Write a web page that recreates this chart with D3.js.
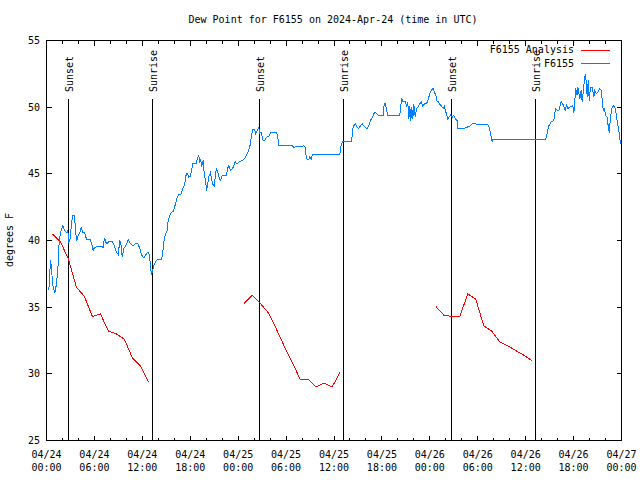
<!DOCTYPE html>
<html><head><meta charset="utf-8">
<script src="https://cdn.jsdelivr.net/npm/d3@7"></script>
<style>
html,body{margin:0;padding:0;background:#fff;}
text{font-family:"DejaVu Sans Mono","Liberation Mono",monospace;font-size:10px;fill:#000;}
</style></head>
<body>
<svg id="chart" width="640" height="480"></svg>
<script>
// ---- data ----
const title = "Dew Point for F6155 on 2024-Apr-24 (time in UTC)";
const yLabel = "degrees F";
const startDate = ["04/24","04/24","04/24","04/24","04/25","04/25","04/25","04/25","04/26","04/26","04/26","04/26","04/27"];
const tickTimes = ["00:00","06:00","12:00","18:00","00:00","06:00","12:00","18:00","00:00","06:00","12:00","18:00","00:00"];
const yTicks = [25,30,35,40,45,50,55];

// hours since 04/24 00:00 UTC
const sunHours = [2.75, 13.27, 26.67, 37.19, 50.71, 61.23];
const sunLabels = ["Sunset","Sunrise","Sunset","Sunrise","Sunset","Sunrise"];

// F6155 Analysis (three segments, hourly)
const analysisStart = [0.75, 24.75, 48.75];
const analysis1 = [40.5, 39.9, 38.6, 36.5, 35.8, 34.3, 34.5, 33.2, 33.0, 32.6, 31.2, 30.6, 29.4];
const analysis2 = [35.3, 35.9, 35.3, 34.6, 33.4, 32.1, 30.9, 29.6, 29.6, 29.0, 29.3, 29.0, 30.1];
const analysis3 = [35.05, 34.4, 34.3, 34.3, 36.0, 35.6, 33.6, 33.2, 32.4, 32.1, 31.75, 31.4, 31.0];

// F6155 observations
const obsHours = [0.29,0.50,0.63,0.75,0.91,1.04,1.25,1.47,1.59,1.84,2.04,2.25,2.50,2.67,2.79,2.92,3.13,3.29,3.51,3.63,3.79,3.97,4.17,4.35,4.51,4.76,5.01,5.51,5.72,5.85,6.01,6.76,7.10,7.26,7.51,7.80,8.23,8.51,8.77,8.98,9.18,9.35,9.48,9.68,9.93,10.23,10.52,10.86,11.14,11.43,11.68,11.93,12.18,12.40,12.65,12.81,12.94,13.06,13.15,13.31,13.44,13.65,13.86,14.36,14.53,14.69,14.90,15.11,15.24,15.44,15.65,15.87,16.03,16.24,16.37,16.57,16.87,17.07,17.32,17.41,17.62,17.82,18.03,18.16,18.32,18.75,18.95,19.07,19.20,19.32,19.41,19.62,19.75,19.91,20.04,20.16,20.32,20.54,20.66,20.82,21.00,21.13,21.29,21.45,21.66,21.79,22.00,22.54,22.70,22.83,23.04,23.29,23.45,23.63,23.79,23.95,24.29,24.63,24.92,25.13,25.38,25.54,25.63,25.80,26.08,26.21,26.38,26.58,26.71,26.88,27.13,27.34,27.55,27.84,28.05,28.80,28.96,29.09,30.77,30.97,31.72,32.22,32.39,32.47,32.64,32.85,32.97,33.15,33.27,33.47,36.73,36.81,37.03,38.19,38.36,38.48,38.69,38.91,39.11,39.32,39.53,39.73,39.94,40.16,40.36,40.57,40.82,41.07,41.32,41.54,42.16,42.29,42.45,42.57,42.74,44.24,44.33,44.49,44.67,44.92,45.08,45.24,45.37,45.49,45.62,45.74,45.87,45.99,46.17,46.33,46.49,46.74,46.92,47.08,47.33,47.58,47.75,48.00,48.21,48.42,48.58,48.75,48.92,49.09,49.21,49.42,49.67,49.84,49.96,50.09,50.21,50.38,50.59,50.80,51.00,51.21,51.43,51.50,52.25,52.68,53.09,53.30,55.19,55.39,55.51,55.69,55.82,55.89,62.48,62.60,62.77,62.90,63.20,63.52,63.74,63.95,64.15,64.27,64.45,64.61,64.78,64.86,64.99,65.11,65.28,65.53,65.83,65.95,66.03,66.12,66.24,66.45,66.53,66.65,66.78,66.95,67.08,67.28,67.46,67.58,67.71,67.83,67.96,68.12,68.33,68.53,68.66,68.83,69.03,69.28,69.46,69.58,69.71,69.87,70.00,70.21,70.33,70.46,70.62,70.83,71.03,71.24,71.45,71.62,71.78,71.87];
const obsValues = [36.25,38.5,38.0,36.75,36.4,36.05,36.75,38.25,40.0,40.75,41.1,40.75,40.6,40.75,39.9,40.0,41.25,41.9,41.9,40.75,40.0,40.4,40.6,41.0,40.6,40.6,40.1,40.05,39.6,39.25,39.5,39.55,39.5,40.2,39.75,39.9,39.9,39.6,39.1,38.95,40.0,39.6,38.75,39.4,39.6,40.05,39.75,39.6,39.75,39.8,39.4,38.9,38.7,38.9,39.1,39.1,38.6,37.9,37.4,37.8,38.1,38.4,38.55,38.55,38.9,39.9,40.5,40.75,41.5,41.9,42.1,42.2,42.5,42.9,43.25,43.45,43.5,43.9,44.25,44.8,45.05,44.75,44.8,45.25,45.75,45.8,46.25,46.4,45.9,46.05,45.5,46.0,45.0,44.5,43.75,44.1,44.8,45.1,44.6,44.2,44.1,44.8,45.45,45.1,44.6,44.5,44.9,44.9,45.45,45.6,45.25,45.4,45.6,45.95,45.75,45.8,45.95,46.05,46.25,46.5,46.9,47.25,47.75,48.3,48.3,48.0,48.25,48.45,48.05,48.1,47.5,47.5,47.75,47.8,48.1,48.1,47.75,47.1,47.1,47.0,47.05,47.1,47.0,46.5,46.05,46.1,46.3,46.1,46.4,46.45,46.45,46.9,47.4,47.4,48.4,48.6,48.75,48.5,48.4,48.6,48.75,48.6,48.45,48.4,48.6,49.0,49.25,49.6,49.55,49.4,49.4,50.3,50.3,49.75,49.4,49.4,50.0,50.6,50.4,50.4,50.1,50.4,49.1,50.1,49.0,50.0,49.1,50.25,49.25,49.9,50.0,50.25,50.4,50.1,50.25,50.25,50.5,51.0,51.3,51.4,51.1,50.9,50.4,50.4,50.25,50.1,49.9,50.1,49.6,49.6,49.1,49.25,49.4,49.25,49.4,49.1,49.0,48.4,48.4,48.5,48.6,48.75,48.7,48.6,48.25,47.75,47.4,47.6,47.6,47.75,48.25,48.6,48.9,49.0,49.9,49.75,49.75,50.0,50.4,50.25,50.1,49.8,49.75,50.25,49.9,50.0,50.1,50.0,49.6,50.0,51.4,50.9,51.5,51.1,50.6,51.25,50.4,51.6,52.5,51.9,50.75,52.0,50.5,51.5,51.5,50.75,51.25,51.0,51.1,51.4,51.25,50.6,49.75,49.9,49.4,49.25,48.6,48.1,49.25,50.0,50.1,49.9,49.0,48.4,47.75,47.25];

const legendNames = ["F6155 Analysis","F6155"];
const colors = ["#ff0000","#0080ff"];

// ---- chart ----
const svg = d3.select("#chart");
const x = d3.scaleLinear().domain([0,72]).range([46.5,621.5]);
const y = d3.scaleLinear().domain([25,55]).range([440.5,40.5]);

svg.append("rect").attr("width",640).attr("height",480).attr("fill","#fff");

// frame
svg.append("rect").attr("x",x(0)).attr("y",y(55)).attr("width",x(72)-x(0)).attr("height",y(25)-y(55))
  .attr("fill","none").attr("stroke","#000").attr("stroke-width",1).attr("shape-rendering","crispEdges");

const g = svg.append("g").attr("shape-rendering","crispEdges");
// x ticks: every 2 h, major every 6 h
d3.range(0,73,2).forEach(h=>{
  const len = h%6===0 ? 5 : 3;
  const xx = Math.round(x(h)-0.5)+0.5;
  g.append("line").attr("x1",xx).attr("x2",xx).attr("y1",y(25)).attr("y2",y(25)-len).attr("stroke","#000");
  g.append("line").attr("x1",xx).attr("x2",xx).attr("y1",y(55)).attr("y2",y(55)+len).attr("stroke","#000");
});
// x labels
tickTimes.forEach((t,i)=>{
  const xx = x(i*6);
  svg.append("text").attr("x",xx).attr("y",458).attr("text-anchor","middle").text(startDate[i]);
  svg.append("text").attr("x",xx).attr("y",471).attr("text-anchor","middle").text(t);
});
// y ticks
yTicks.forEach(v=>{
  const yy = Math.round(y(v)-0.5)+0.5;
  g.append("line").attr("x1",x(0)).attr("x2",x(0)+5).attr("y1",yy).attr("y2",yy).attr("stroke","#000");
  g.append("line").attr("x1",x(72)).attr("x2",x(72)-5).attr("y1",yy).attr("y2",yy).attr("stroke","#000");
  svg.append("text").attr("x",40).attr("y",yy+3.5).attr("text-anchor","end").text(v);
});

// title & axis label
svg.append("text").attr("x",333).attr("y",23).attr("text-anchor","middle").text(title);
svg.append("text").attr("transform","translate(13,240) rotate(-90)").attr("text-anchor","middle").text(yLabel);

// sunrise / sunset
sunHours.forEach((h,i)=>{
  const xx = Math.round(x(h)-0.5)+0.5;
  g.append("line").attr("x1",xx).attr("x2",xx).attr("y1",99).attr("y2",y(25)).attr("stroke","#000");
  svg.append("text").attr("transform",`translate(${xx+4.5},92) rotate(-90)`).attr("text-anchor","start").text(sunLabels[i]);
});

// analysis lines
const line = d3.line().x(d=>x(d[0])).y(d=>y(d[1]));
[analysis1,analysis2,analysis3].forEach((arr,k)=>{
  const pts = arr.map((v,i)=>[analysisStart[k]+i, v]);
  svg.append("path").attr("d",line(pts)).attr("fill","none").attr("stroke",colors[0]).attr("stroke-width",1)
    .attr("shape-rendering","crispEdges");
});
// observations
const obs = obsHours.map((h,i)=>[h, obsValues[i]]);
svg.append("path").attr("d",line(obs)).attr("fill","none").attr("stroke",colors[1]).attr("stroke-width",1)
  .attr("shape-rendering","crispEdges");

// legend
legendNames.forEach((n,i)=>{
  const ly = 49.5 + i*13.5;
  svg.append("text").attr("x",574).attr("y",ly+3.5).attr("text-anchor","end").text(n);
  svg.append("line").attr("x1",581).attr("x2",610).attr("y1",Math.round(ly)+0.5).attr("y2",Math.round(ly)+0.5)
    .attr("stroke",colors[i]).attr("stroke-width",1).attr("shape-rendering","crispEdges");
});
</script>
</body></html>
